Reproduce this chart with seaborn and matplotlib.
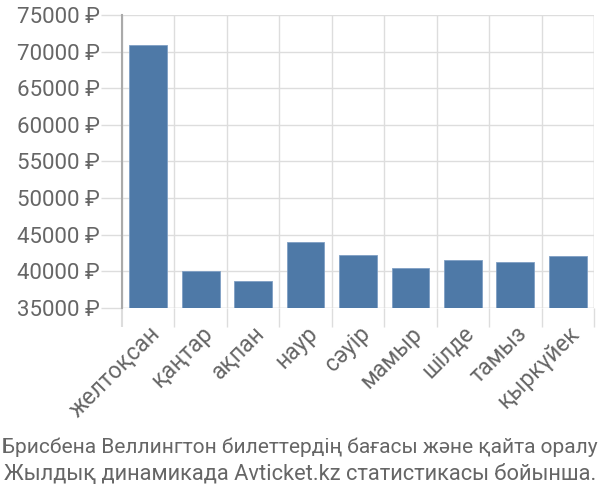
import matplotlib
matplotlib.use("Agg")
import matplotlib.pyplot as plt
import seaborn as sns
import pandas as pd
import numpy as np

months = ["желтоқсан", "қаңтар", "ақпан", "наур", "сәуір", "мамыр", "шілде", "тамыз", "қыркүйек"]
prices = [70900, 40100, 38750, 43950, 42270, 40460, 41550, 41320, 42140]
yticks = [35000, 40000, 45000, 50000, 55000, 60000, 65000, 70000, 75000]
title_lines = ["Брисбена Веллингтон билеттердің бағасы және қайта оралу",
               "Жылдық динамикада Avticket.kz статистикасы бойынша."]

sns.set_theme(style="white")
plt.rcParams['font.family'] = ['Roboto', 'DejaVu Sans']

df = pd.DataFrame({"month": months, "price": prices})

fig = plt.figure(figsize=(6, 5), dpi=100)
ax = fig.add_axes([122/600, 1 - 308/500, (594-122)/600, (308-15)/500])

sns.barplot(data=df, x="month", y="price", color="#4e79a7", saturation=1,
            width=0.72, ax=ax, zorder=3, edgecolor="#7f9fc4", linewidth=0.6)

ax.set_ylim(35000, 75000)
ax.set_xlim(-0.5, len(months) - 0.5)
ax.set_xlabel("")
ax.set_ylabel("")

ax.set_yticks(yticks)
ax.set_yticklabels([f"{v} ₽" for v in yticks])
ax.tick_params(axis="y", length=15, color="#dddddd", width=1, pad=1,
               labelsize=16, labelcolor="#666666", left=True)

ax.set_xticks(np.arange(len(months)))
ax.set_xticklabels(months, rotation=45, ha="right", rotation_mode="anchor")
ax.tick_params(axis="x", which="major", length=0, pad=10, labelsize=16.5,
               labelcolor="#666666")
ax.set_xticks(np.arange(len(months) + 1) - 0.5, minor=True)
ax.tick_params(axis="x", which="minor", length=14, color="#dddddd", width=1, bottom=True)

ax.grid(True, axis="y", color="#dddddd", linewidth=1, zorder=0)
ax.grid(True, axis="x", which="minor", color="#dddddd", linewidth=1, zorder=0)
ax.set_axisbelow(True)

for s in ["top", "right", "bottom"]:
    ax.spines[s].set_visible(False)
ax.spines["left"].set_color("#aaaaaa")
ax.spines["left"].set_linewidth(1.5)
ax.spines["left"].set_zorder(4)
ax.axhline(35000, color="#dddddd", linewidth=1, zorder=1)
ax.axvline(len(months) - 0.5, color="#dddddd", linewidth=1, zorder=1)

mt = ax.xaxis.get_minorticklines()
mt[0].set_color("#aaaaaa")
mt[0].set_markeredgewidth(1.5)

# title lines, shrunk to fit the figure width
renderer = fig.canvas.get_renderer()
for line, ypix in zip(title_lines, [447, 475]):
    t = fig.text(0.5, 1 - ypix/500, line, ha="center", va="center",
                 fontsize=16, color="#666666")
    w = t.get_window_extent(renderer=renderer).width
    if w > 596:
        t.set_fontsize(16 * 596 / w)

fig.savefig("out.png", dpi=100)
